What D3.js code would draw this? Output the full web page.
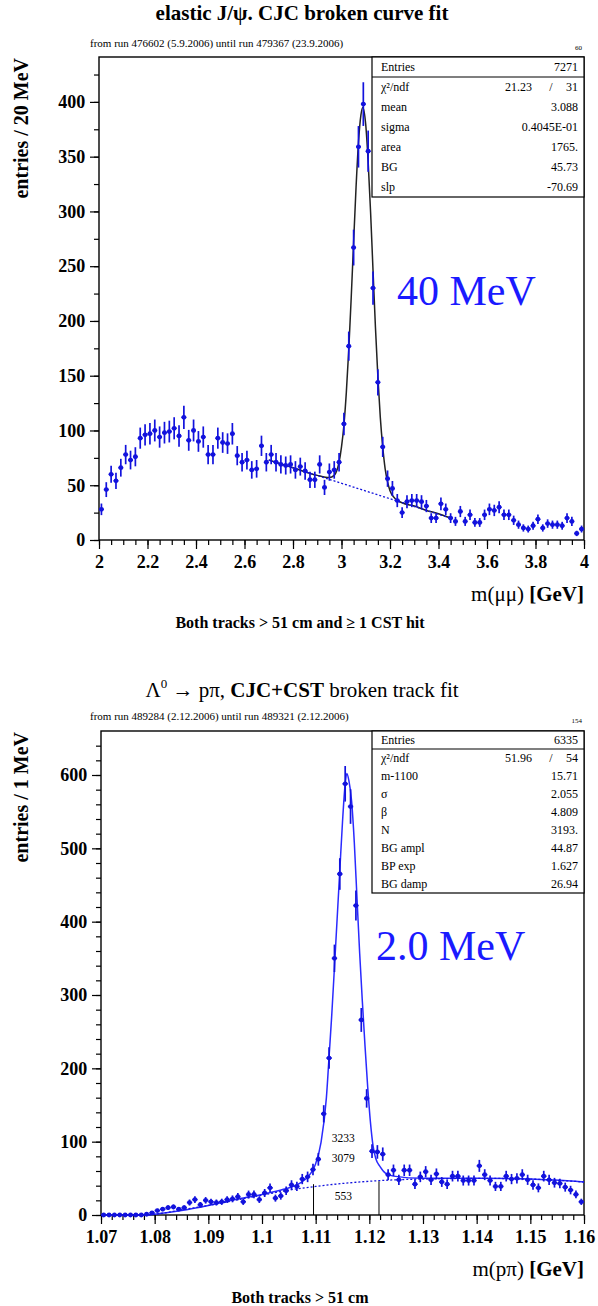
<!DOCTYPE html>
<html lang="en">
<head>
<meta charset="UTF-8">
<title>Mass peaks: elastic J/psi and Lambda</title>
<script src="https://d3js.org/d3.v7.min.js"></script>
<style>
  body { margin: 0; background: #fff; }
  svg { display: block; font-family: "Liberation Serif", "DejaVu Serif", serif; }
</style>
</head>
<body>
<svg id="chart" width="598" height="1306"></svg>
<script>
// ---- elastic J/psi, 20 MeV bins from 2 to 4 GeV
const jpsiCounts = [
  28, 46, 60, 54, 66, 78, 73, 76, 93, 96,
  97, 100, 94, 98, 99, 102, 95, 112, 91, 100,
  90, 94, 78, 78, 93, 89, 88, 97, 77, 71,
  73, 64, 65, 86, 71, 78, 71, 69, 68, 69,
  64, 67, 63, 55, 55, 69, 48, 62, 64, 71,
  106, 177, 267, 359, 398, 355, 230, 144, 85, 56,
  47, 36, 25, 35, 36, 36, 35, 31, 20, 20,
  33, 28, 20, 17, 26, 17, 23, 16, 16, 23,
  28, 27, 30, 23, 23, 18, 14, 11, 10, 13,
  19, 11, 15, 14, 14, 13, 20, 17, 6, 10
];
// fit curve (mass in GeV, entries)
const jpsiFitMass  = [2.70, 2.80, 2.90, 2.95, 2.97, 2.98, 2.99, 3.00, 3.01, 3.02, 3.03, 3.04, 3.05, 3.06, 3.07, 3.08, 3.088,
                      3.10, 3.11, 3.12, 3.13, 3.14, 3.15, 3.16, 3.17, 3.18, 3.19, 3.20, 3.22, 3.25, 3.30, 3.35, 3.40, 3.45];
const jpsiFitValue = [73, 66, 59, 57, 59, 63, 71, 85, 105, 135, 174, 221, 272, 322, 363, 388, 395,
                      379, 345, 299, 246, 194, 149, 112, 85, 65, 53, 45, 38, 34, 31, 27, 24, 20];
const jpsiBgMass  = [2.70, 3.45];
const jpsiBgValue = [73, 20];
const jpsiXTicks = [2, 2.2, 2.4, 2.6, 2.8, 3, 3.2, 3.4, 3.6, 3.8, 4];
const jpsiYTicks = [0, 50, 100, 150, 200, 250, 300, 350, 400];
const jpsiStats = [
  ["Entries", "7271"],
  ["χ²/ndf", "21.23", "31"],
  ["mean", "3.088"],
  ["sigma", "0.4045E-01"],
  ["area", "1765."],
  ["BG", "45.73"],
  ["slp", "-70.69"]
];

// ---- Lambda -> p pi, 1 MeV bins from 1.07 to 1.16 GeV
const lambdaCounts = [
  0, 0, 0, 0, 0, 0, 0, 0, 1, 3,
  6, 8, 10, 11, 8, 10, 17, 21, 14, 20,
  18, 17, 18, 21, 22, 25, 18, 28, 28, 21,
  30, 37, 23, 26, 33, 41, 39, 49, 52, 62,
  76, 138, 214, 350, 465, 588, 557, 422, 266, 159,
  87, 86, 83, 55, 61, 48, 61, 61, 42, 52,
  59, 48, 56, 45, 42, 53, 53, 47, 47, 47,
  67, 55, 47, 39, 39, 53, 49, 50, 55, 48,
  41, 37, 53, 48, 44, 43, 38, 34, 28, 18
];
const lambdaFitMass  = [1.070, 1.078, 1.080, 1.085, 1.090, 1.095, 1.100, 1.104, 1.107, 1.109, 1.110, 1.111, 1.112,
                        1.1125, 1.113, 1.1135, 1.114, 1.1145, 1.115, 1.1155, 1.1158, 1.1162, 1.1167, 1.1172, 1.1177,
                        1.1182, 1.1187, 1.1192, 1.1197, 1.1202, 1.1207, 1.1212, 1.122, 1.123, 1.1245, 1.130, 1.140, 1.150, 1.160];
const lambdaFitValue = [0, 0, 1, 6, 13, 21, 28, 35, 43, 56, 70, 99, 160,
                        216, 273, 338, 404, 470, 536, 588, 602, 592, 564, 508, 432,
                        357, 291, 230, 174, 127, 94, 77, 66, 57, 53, 50, 50, 49, 45];
const lambdaBgMass  = [1.070, 1.078, 1.080, 1.085, 1.090, 1.095, 1.100, 1.105, 1.110, 1.115, 1.120, 1.125, 1.130, 1.140, 1.150, 1.160];
const lambdaBgValue = [0, 0, 1, 7, 13, 20, 27, 34, 39, 43, 46, 48, 49, 50, 49, 45];
const lambdaWindowMass  = [1.1096, 1.1218];
const lambdaWindowValue = [42, 46];
const lambdaWindowText  = [["3233", 100], ["3079", 72], ["553", 20]];
const lambdaXTicks = [1.07, 1.08, 1.09, 1.1, 1.11, 1.12, 1.13, 1.14, 1.15, 1.16];
const lambdaYTicks = [0, 100, 200, 300, 400, 500, 600];
const lambdaStats = [
  ["Entries", "6335"],
  ["χ²/ndf", "51.96", "54"],
  ["m-1100", "15.71"],
  ["σ", "2.055"],
  ["β", "4.809"],
  ["N", "3193."],
  ["BG ampl", "44.87"],
  ["BP exp", "1.627"],
  ["BG damp", "26.94"]
];

const svg = d3.select("#chart");
const blue = "#1212dd";
const fmt = d => String(Math.round(d * 1000) / 1000);

function drawPanel(p) {
  const g = svg.append("g");
  const x = d3.scaleLinear().domain(p.xDomain).range([p.left, p.right]);
  const y = d3.scaleLinear().domain([0, p.yMax]).range([p.bottom, p.top]);

  // titles: [text, bold, superscript]
  const t = g.append("text").attr("x", 302).attr("y", p.titleY).attr("text-anchor", "middle")
    .attr("font-size", 21);
  p.title.forEach(part => {
    const s = t.append("tspan").attr("font-weight", part[1] ? "bold" : "normal").text(part[0]);
    if (part[2] === "sup") s.attr("font-size", 13).attr("dy", -9);
    if (part[2] === "down") s.attr("dy", 9);
  });
  g.append("text").attr("x", p.subX).attr("y", p.subY).attr("font-size", 11).text(p.subtitle);
  g.append("text").attr("x", 582).attr("y", p.subY + 3).attr("text-anchor", "end")
    .attr("font-size", 7).text(p.corner);

  // axes (ticks pointing outwards, ROOT style)
  const xa = g.append("g").attr("transform", `translate(0,${p.bottom})`)
    .call(d3.axisBottom(x).tickValues(p.xTicks).tickSize(9).tickSizeOuter(0).tickFormat(fmt));
  g.append("g").attr("transform", `translate(0,${p.bottom})`)
    .call(d3.axisBottom(x).tickValues(p.xMinor).tickSize(5).tickSizeOuter(0).tickFormat(""));
  const ya = g.append("g").attr("transform", `translate(${p.left},0)`)
    .call(d3.axisLeft(y).tickValues(p.yTicks).tickSize(9).tickSizeOuter(0).tickFormat(fmt));
  g.append("g").attr("transform", `translate(${p.left},0)`)
    .call(d3.axisLeft(y).tickValues(p.yMinor).tickSize(5).tickSizeOuter(0).tickFormat(""));
  g.selectAll(".domain").remove();
  g.selectAll(".tick line").attr("stroke", "#000").attr("stroke-width", 1.2);
  xa.selectAll("text").attr("font-family", "Liberation Serif, serif").attr("font-size", 18)
    .attr("font-weight", "bold").attr("dy", "0.9em");
  if (p.pullLastLabel) {
    xa.selectAll(".tick:last-of-type text").attr("text-anchor", "end").attr("dx", "0.6em");
  }
  ya.selectAll("text").attr("font-family", "Liberation Serif, serif").attr("font-size", 18)
    .attr("font-weight", "bold").attr("dx", "-0.1em");

  // frame
  g.append("rect").attr("x", p.left).attr("y", p.top)
    .attr("width", p.right - p.left).attr("height", p.bottom - p.top)
    .attr("fill", "none").attr("stroke", "#000").attr("stroke-width", 1.4);

  // axis titles
  g.append("text").attr("transform", `translate(28,${p.top + 1}) rotate(-90)`)
    .attr("text-anchor", "end").attr("font-size", 20).attr("font-weight", "bold").text(p.yLabel);
  const xl = g.append("text").attr("x", p.right).attr("y", p.bottom + 61)
    .attr("text-anchor", "end").attr("font-size", 21);
  xl.append("tspan").text(p.xLabel + " ");
  xl.append("tspan").attr("font-weight", "bold").text("[GeV]");
  g.append("text").attr("x", 300).attr("y", p.bottom + 88).attr("text-anchor", "middle")
    .attr("font-size", 16).attr("font-weight", "bold").text(p.footer);

  // background + fit curves
  const line = d3.line().x(d => x(d[0])).y(d => y(d[1])).curve(d3.curveMonotoneX);
  g.append("path").datum(d3.zip(p.fitMass, p.fitValue)).attr("d", line)
    .attr("fill", "none").attr("stroke", p.fitColor).attr("stroke-width", 1.5);
  g.append("path").datum(d3.zip(p.bgMass, p.bgValue)).attr("d", line)
    .attr("fill", "none").attr("stroke", blue).attr("stroke-width", 1.3)
    .attr("stroke-dasharray", "2,2");

  // data points with errors
  const w = (p.xDomain[1] - p.xDomain[0]) / p.counts.length;
  const pts = g.append("g").selectAll("g").data(p.counts).join("g");
  pts.each(function(d, i) {
    const sel = d3.select(this);
    const cx = x(p.xDomain[0] + (i + 0.5) * w);
    sel.append("line")
      .attr("x1", x(p.xDomain[0] + i * w)).attr("x2", x(p.xDomain[0] + (i + 1) * w))
      .attr("y1", y(d)).attr("y2", y(d))
      .attr("stroke", blue).attr("stroke-width", 1.7);
    if (d > 0) {
      sel.append("line").attr("x1", cx).attr("x2", cx)
        .attr("y1", y(d - Math.sqrt(d))).attr("y2", y(d + Math.sqrt(d)))
        .attr("stroke", blue).attr("stroke-width", 1.7);
    }
    sel.append("circle").attr("cx", cx).attr("cy", y(d)).attr("r", 2.4).attr("fill", blue);
  });

  // statistics box
  const bx = p.boxX, bw = p.right - p.boxX, rh = p.rowH;
  const box = g.append("g");
  box.append("rect").attr("x", bx).attr("y", p.top).attr("width", bw).attr("height", rh * p.stats.length)
    .attr("fill", "#fff").attr("stroke", "#000").attr("stroke-width", 1.2);
  box.append("line").attr("x1", bx).attr("x2", bx + bw).attr("y1", p.top + rh).attr("y2", p.top + rh)
    .attr("stroke", "#000").attr("stroke-width", 1.2);
  p.stats.forEach((s, k) => {
    const ty = p.top + rh * k + rh * 0.7;
    box.append("text").attr("x", bx + 9).attr("y", ty).attr("font-size", 12).text(s[0]);
    if (s.length === 3) {
      box.append("text").attr("x", bx + bw - 52).attr("y", ty).attr("text-anchor", "end").attr("font-size", 12).text(s[1]);
      box.append("text").attr("x", bx + bw - 33).attr("y", ty).attr("text-anchor", "middle").attr("font-size", 12).text("/");
      box.append("text").attr("x", bx + bw - 6).attr("y", ty).attr("text-anchor", "end").attr("font-size", 12).text(s[2]);
    } else {
      box.append("text").attr("x", bx + bw - 6).attr("y", ty).attr("text-anchor", "end").attr("font-size", 12).text(s[1]);
    }
  });

  // resolution label
  g.append("text").attr("x", p.resX).attr("y", p.resY).attr("font-size", 42).attr("fill", "#1a1aff").text(p.res);
  return { x, y, g };
}

drawPanel({
  title: [["elastic J/ψ. CJC broken curve fit", true]],
  subtitle: "from run 476602 (5.9.2006) until run 479367 (23.9.2006)",
  corner: "60", titleY: 20, subX: 90, subY: 47,
  xDomain: [2, 4], left: 99, right: 584, top: 57, bottom: 540, yMax: 441,
  xTicks: jpsiXTicks, xMinor: d3.range(2, 4.001, 0.05), pullLastLabel: false,
  yTicks: jpsiYTicks, yMinor: d3.range(0, 441, 25),
  yLabel: "entries / 20 MeV", xLabel: "m(μμ)",
  footer: "Both tracks > 51 cm and ≥ 1 CST hit",
  counts: jpsiCounts, fitMass: jpsiFitMass, fitValue: jpsiFitValue, fitColor: "#222",
  bgMass: jpsiBgMass, bgValue: jpsiBgValue,
  stats: jpsiStats, boxX: 372, rowH: 20,
  res: "40 MeV", resX: 397, resY: 305
});

const lam = drawPanel({
  title: [["Λ", false], ["0", false, "sup"], [" → pπ, ", false, "down"], ["CJC+CST", true], [" broken track fit", false]],
  subtitle: "from run 489284 (2.12.2006) until run 489321 (2.12.2006)",
  corner: "154", titleY: 697, subX: 90, subY: 720,
  xDomain: [1.07, 1.16], left: 101, right: 584, top: 731, bottom: 1215, yMax: 660,
  xTicks: lambdaXTicks, xMinor: d3.range(1.07, 1.1601, 0.002), pullLastLabel: true,
  yTicks: lambdaYTicks, yMinor: d3.range(0, 660, 20),
  yLabel: "entries / 1 MeV", xLabel: "m(pπ)",
  footer: "Both tracks > 51 cm",
  counts: lambdaCounts, fitMass: lambdaFitMass, fitValue: lambdaFitValue, fitColor: "#2a2aff",
  bgMass: lambdaBgMass, bgValue: lambdaBgValue,
  stats: lambdaStats, boxX: 372, rowH: 18,
  res: "2.0 MeV", resX: 376, resY: 960
});

// signal window markers and counts
lambdaWindowMass.forEach((m, k) => {
  lam.g.append("line").attr("x1", lam.x(m)).attr("x2", lam.x(m))
    .attr("y1", lam.y(0)).attr("y2", lam.y(lambdaWindowValue[k]))
    .attr("stroke", "#000").attr("stroke-width", 1);
});
const winMid = (lambdaWindowMass[0] + lambdaWindowMass[1]) / 2;
lambdaWindowText.forEach(t => {
  lam.g.append("text").attr("x", lam.x(winMid) - 3).attr("y", lam.y(t[1])).attr("text-anchor", "middle")
    .attr("font-size", 11.5).text(t[0]);
});
</script>
</body>
</html>
